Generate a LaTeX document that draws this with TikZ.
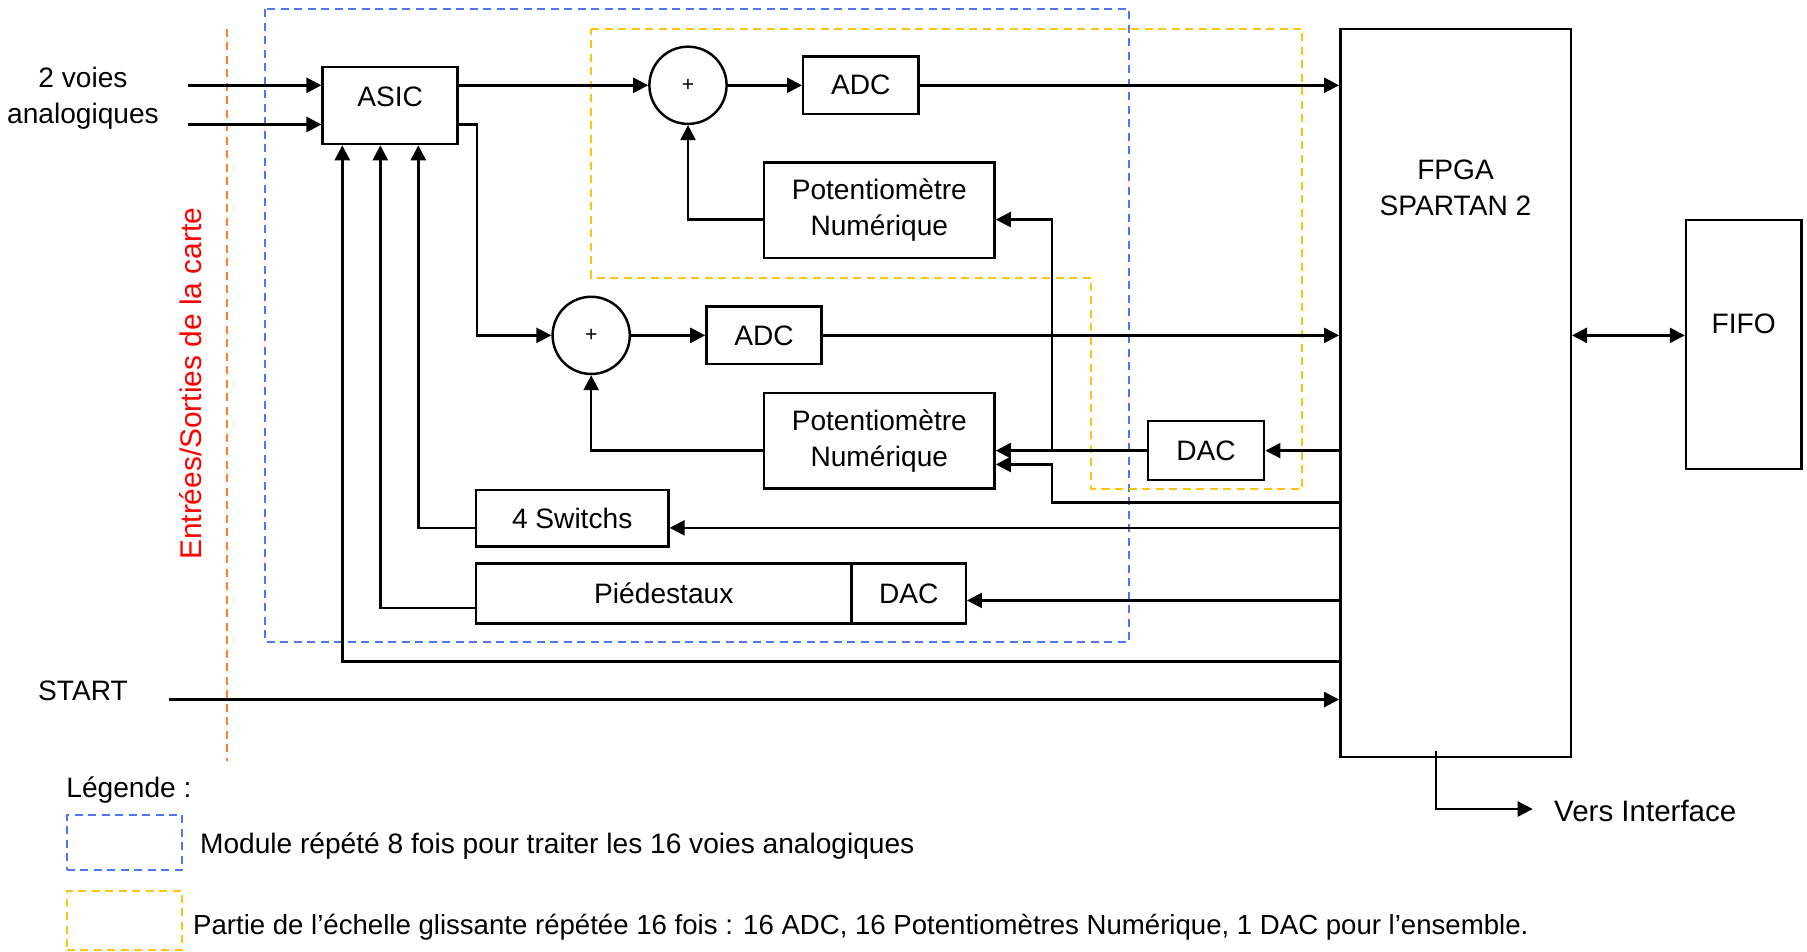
\documentclass[tikz,border=0pt]{standalone}
\usepackage{fontspec}
\setmainfont{Liberation Sans}
\usetikzlibrary{arrows.meta}

\newcommand{\pxu}{0.11524mm}
\definecolor{moduleblue}{HTML}{4A78F0}
\definecolor{echelleyellow}{HTML}{FFC20E}
\definecolor{cardorange}{HTML}{FF7F27}

\tikzset{
  blk/.style={draw, line width=0.7pt, inner sep=0pt, align=center},
  sumnode/.style={draw, circle, line width=0.7pt, minimum size=67*\pxu, inner sep=0pt, font=\fontsize{6}{7}\selectfont},
  sig/.style={line width=0.7pt, -{Triangle[length=1.5mm,width=1.5mm]}},
  dsig/.style={line width=0.7pt, {Triangle[length=1.5mm,width=1.5mm]}-{Triangle[length=1.5mm,width=1.5mm]}},
  zone/.style={line width=0.6pt, dash pattern=on 0.8mm off 0.55mm},
  txt/.style={anchor=base west, inner sep=0pt},
}

\begin{document}
\begin{tikzpicture}[x=\pxu, y=-\pxu, font=\fontsize{8}{10.3}\selectfont]
  \useasboundingbox (0,0) rectangle (1568,826);

  % zones
  \draw[zone, moduleblue] (230,8) rectangle (980,557);
  \draw[zone, echelleyellow] (513,25) -- (1130,25) -- (1130,424) -- (947,424) -- (947,241) -- (513,241) -- cycle;
  \draw[zone, cardorange] (197,25) -- (197,660);
  \node[rotate=90, text=red, font=\fontsize{8.5}{10}\selectfont] (cardlab) at (165,333) {Entrées/Sorties de la carte};

  % blocks
  \node[blk, minimum width=117*\pxu, minimum height=67*\pxu, label={[yshift=7.5*\pxu]center:ASIC}] (asic) at (338.5,91.5) {};
  \node[sumnode] (sum1) at (597,74) {+};
  \node[sumnode] (sum2) at (513,291) {+};
  \node[blk, minimum width=100*\pxu, minimum height=50*\pxu] (adc1) at (747,74) {ADC};
  \node[blk, minimum width=100*\pxu, minimum height=50*\pxu] (adc2) at (663,291) {ADC};
  \node[blk, minimum width=200*\pxu, minimum height=83*\pxu] (pot1) at (763,182.5) {Potentiomètre\\Numérique};
  \node[blk, minimum width=200*\pxu, minimum height=83*\pxu] (pot2) at (763,382.5) {Potentiomètre\\Numérique};
  \node[blk, minimum width=101*\pxu, minimum height=51*\pxu] (dacr) at (1046.5,391) {DAC};
  \node[blk, minimum width=167*\pxu, minimum height=49*\pxu] (sw) at (496.5,449.5) {4 Switchs};
  \node[blk, minimum width=326*\pxu, minimum height=52*\pxu] (ped) at (576,515) {Piédestaux};
  \node[blk, minimum width=99*\pxu, minimum height=52*\pxu] (dacp) at (788.5,515) {DAC};
  \node[blk, minimum width=200*\pxu, minimum height=632*\pxu,
        label={[align=center, inner sep=0pt, anchor=north, yshift=-114*\pxu]north:{FPGA\\SPARTAN 2}}] (fpga) at (1263,341) {};
  \node[blk, minimum width=100*\pxu, minimum height=216*\pxu, label={[yshift=18*\pxu]center:FIFO}] (fifo) at (1513,299) {};

  % entrees
  \node[align=center] (inlab) at (72,85) {2 voies\\analogiques};
  \coordinate (in1) at (163,74);
  \coordinate (in2) at (163,108);
  \draw[sig] (in1) -- (in1 -| asic.west);
  \draw[sig] (in2) -- (in2 -| asic.west);

  % voies analogiques
  \draw[sig] (asic.east |- sum1) -- (sum1.west);
  \draw[sig] (asic.east |- in2) -- ++(16,0) |- (sum2.west);
  \draw[sig] (sum1.east) -- (adc1.west);
  \draw[sig] (sum2.east) -- (adc2.west);
  \draw[sig] (adc1.east) -- (adc1.east -| fpga.west);
  \draw[sig] (adc2.east) -- (adc2.east -| fpga.west);
  \draw[sig] ([yshift=-8*\pxu]pot1.west) -| (sum1.south);
  \draw[sig] ([yshift=-8.5*\pxu]pot2.west) -| (sum2.south);
  \draw[dsig] (fpga.east |- adc2) -- (fifo.west |- adc2);

  % echelle glissante
  \coordinate (split) at (913,391);
  \coordinate (potctl) at (913,436);
  \draw[sig] (fpga.west |- dacr) -- (dacr.east);
  \draw[sig] (dacr.west) -- (dacr.west -| pot2.east);
  \draw[sig] (split) |- ([yshift=-8*\pxu]pot1.east);
  \draw[sig] (fpga.west |- potctl) -- (potctl) |- ([yshift=-20.5*\pxu]pot2.east);

  % commandes ASIC
  \coordinate (swin) at ([yshift=-8.5*\pxu]sw.east);
  \coordinate (dacpin) at ([yshift=-6*\pxu]dacp.east);
  \coordinate (pedout) at ([yshift=-12.5*\pxu]ped.west);
  \coordinate (trig) at (0,574);
  \draw[sig] (swin -| fpga.west) -- (swin);
  \draw[sig] (swin -| sw.west) -| ([xshift=24.5*\pxu]asic.south);
  \draw[sig] (dacpin -| fpga.west) -- (dacpin);
  \draw[sig] (pedout) -| ([xshift=-8.5*\pxu]asic.south);
  \draw[sig] (fpga.west |- trig) -| ([xshift=-41.5*\pxu]asic.south);

  % START et sortie
  \node[anchor=base] (start) at (72,607.5) {START};
  \coordinate (startin) at (147,607);
  \draw[sig] (startin) -- (startin -| fpga.west);
  \coordinate (vi) at (1246,652);
  \coordinate (viend) at (1330,702);
  \draw[sig] (vi) |- (viend);
  \node[txt, font=\fontsize{8.4}{10}\selectfont] (vers) at (1348,712.5) {Vers Interface};

  % legende
  \node[txt] (leg) at (57,692) {Légende :};
  \node[zone, draw=moduleblue, minimum width=100*\pxu, minimum height=48*\pxu] (legmod) at (108,731) {};
  \node[txt] (legmodtxt) at (173,741) {Module répété 8 fois pour traiter les 16 voies analogiques};
  \node[zone, draw=echelleyellow, minimum width=100*\pxu, minimum height=51*\pxu] (legech) at (108,798.5) {};
  \node[txt, font=\fontsize{7.85}{10}\selectfont] (legechtxt) at (167,810.5) {Partie de l’échelle glissante répétée 16 fois : 16 ADC, 16 Potentiomètres Numérique, 1 DAC pour l’ensemble.};
\end{tikzpicture}
\end{document}
